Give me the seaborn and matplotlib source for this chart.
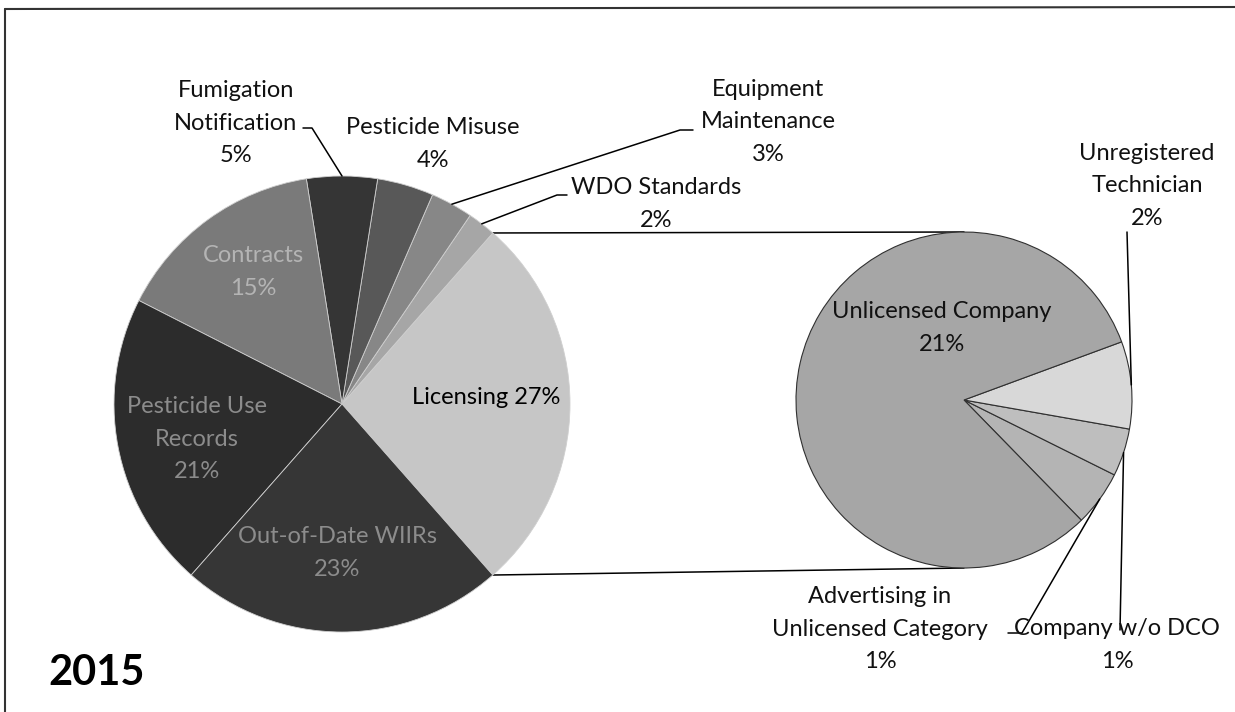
import numpy as np
import matplotlib
matplotlib.use("Agg")
import matplotlib.pyplot as plt
import seaborn as sns

# Complaint categories (main pie), Licensing is broken out in the small pie
main_labels = ['Licensing', 'WDO Standards', 'Equipment\nMaintenance',
               'Pesticide Misuse', 'Fumigation\nNotification', 'Contracts',
               'Pesticide Use\nRecords', 'Out-of-Date WIIRs']
main_values = [27, 2, 3, 4, 5, 15, 21, 23]
main_colours = ['#c6c6c6', '#a6a6a6', '#878787', '#585858', '#353535',
                '#7a7a7a', '#2c2c2c', '#363636']

sub_labels = ['Advertising in\nUnlicensed Category', 'Company w/o DCO',
              'Unregistered\nTechnician', 'Unlicensed Company']
sub_values = [1.4, 1.2, 2.2, 21.4]
sub_colours = ['#b4b4b4', '#bebebe', '#d8d8d8', '#a6a6a6']

year = '2015'

W, H = 1235, 712
MAIN_C, MAIN_R = (342, 404), 228
SUB_C, SUB_R = (964, 400), 168
SUB_START = -45.7


def P(x, y):
    """image pixel coords -> data coords"""
    return (x, H - y)


def edge(c, r, ang):
    a = np.deg2rad(ang)
    return (c[0] + r * np.cos(a), H - c[1] + r * np.sin(a))


sns.set_theme(style='white')
plt.rcParams['font.family'] = ['Lato', 'DejaVu Sans']

fig = plt.figure(figsize=(W / 100, H / 100), dpi=100)
ax = fig.add_axes([0, 0, 1, 1])

start = -main_values[0] / sum(main_values) * 180
main_wedges, _ = ax.pie(main_values, colors=main_colours, startangle=start,
                        center=P(*MAIN_C), radius=MAIN_R,
                        wedgeprops=dict(edgecolor='#cfcfcf', linewidth=0.6))
sub_wedges, _ = ax.pie(sub_values, colors=sub_colours, startangle=SUB_START,
                       center=P(*SUB_C), radius=SUB_R,
                       wedgeprops=dict(edgecolor='#303030', linewidth=0.8))

ax.set_xlim(0, W)
ax.set_ylim(0, H)
ax.set_aspect('auto')
ax.axis('off')

fs = 17
ls = 1.7
txt = '#111111'


def pct(v):
    return f'{v:.0f}%'


def mid(w):
    return (w.theta1 + w.theta2) / 2


# connector lines between the pies
lic = main_wedges[0]
for th, yy in [(lic.theta2, SUB_C[1] - SUB_R), (lic.theta1, SUB_C[1] + SUB_R)]:
    p = edge(MAIN_C, MAIN_R, th)
    ax.plot([p[0], SUB_C[0]], [p[1], H - yy], color='black', lw=1.1, zorder=0)

# inside labels
inside = {0: ((486, 397), 'black'), 5: ((253, 272), '#b4b4b4'),
          6: ((197, 439), '#8c8c8c'), 7: ((337, 553), '#8c8c8c')}
for i, (pos, col) in inside.items():
    sep = ' ' if i == 0 else '\n'
    ax.text(*P(*pos), main_labels[i] + sep + pct(main_values[i]), color=col,
            ha='center', va='center', fontsize=fs, linespacing=ls)

# outside labels with leader lines: (text centre, leader points)
outside = {4: ((236, 123), [(312, 128), (303, 128)]),
           3: ((433, 144), []),
           2: ((768, 122), [(680, 130), (693, 130)]),
           1: ((656, 204), [(557, 195), (567, 195)])}
for i, (pos, pts) in outside.items():
    ax.text(*P(*pos), main_labels[i] + '\n' + pct(main_values[i]),
            color=txt, ha='center', va='center', fontsize=fs,
            linespacing=ls)
    if pts:
        p0 = edge(MAIN_C, MAIN_R, mid(main_wedges[i]))
        xs = [p0[0]] + [q[0] for q in pts]
        ys = [p0[1]] + [H - q[1] for q in pts]
        ax.plot(xs, ys, color='black', lw=1.1)

sub_text = {3: ((942, 328), []),
            2: ((1147, 186), [(1127, 232)]),
            1: ((1117, 645), [(1120, 630)]),
            0: ((880, 629), [(1022, 633), (1008, 633)])}
for i, (pos, pts) in sub_text.items():
    ax.text(*P(*pos), sub_labels[i] + '\n' + pct(sub_values[i]),
            color=txt, ha='center', va='center', fontsize=fs,
            linespacing=ls)
    if pts:
        p0 = edge(SUB_C, SUB_R, mid(sub_wedges[i]))
        xs = [p0[0]] + [q[0] for q in pts]
        ys = [p0[1]] + [H - q[1] for q in pts]
        ax.plot(xs, ys, color='black', lw=1.1)

ax.text(*P(97, 673), year, fontsize=30, fontweight='bold', ha='center',
        va='center', color='black')

# page frame
ax.plot([5, W], [H - 9, H - 7], color='#333333', lw=1.5)
ax.plot([5, 5], [H - 9, 0], color='#333333', lw=1.5)

fig.savefig('out.png', dpi=100)
